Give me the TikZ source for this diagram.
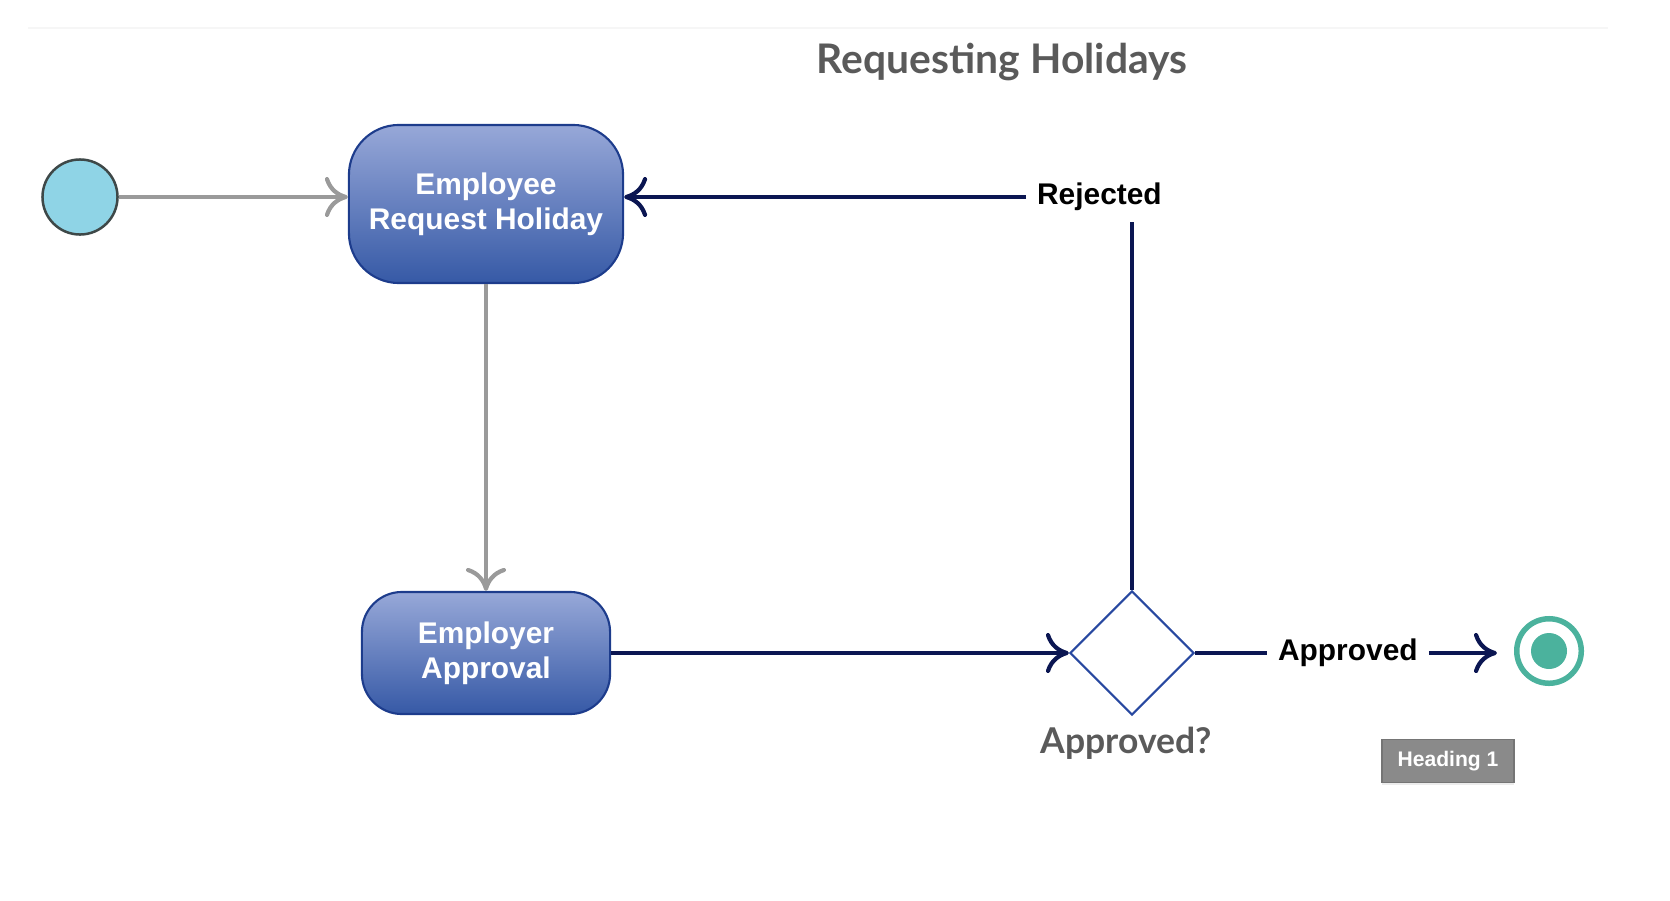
\documentclass[tikz,border=0pt]{standalone}
\usepackage{fontspec}
\setmainfont{Liberation Sans}
\newfontfamily\latofont{Lato}
\usepackage{tikz}
\usetikzlibrary{arrows.meta,shapes.geometric,shadows}
\definecolor{navy}{HTML}{0B1652}
\definecolor{boxtop}{HTML}{97A8D8}
\definecolor{boxbot}{HTML}{3659A6}
\definecolor{boxline}{HTML}{1D3C8C}
\definecolor{startfill}{HTML}{8FD4E6}
\definecolor{startline}{HTML}{3E4848}
\definecolor{endteal}{HTML}{4BB29D}
\definecolor{flowgray}{HTML}{9A9A9A}
\definecolor{titlegray}{HTML}{5A5A5A}
\definecolor{diablue}{HTML}{2848A0}
\definecolor{taggray}{HTML}{8A8A8A}

\begin{document}
\begin{tikzpicture}[x = 0.01cm, y = -0.01cm, line width = 1.2pt,
    >={Computer Modern Rightarrow[length = 0.23cm, width = 0.40cm]},
    act/.style = {rounded corners = 0.5cm, draw = boxline, line width = 0.6pt,
        top color = boxtop, bottom color = boxbot, text = white, align = center,
        font = \bfseries\fontsize{8.5}{10}\selectfont},
    lbl/.style = {font = \bfseries\fontsize{8.5}{10}\selectfont, inner xsep = 0.09cm},
    grey/.style = {draw = flowgray},
    dark/.style = {draw = navy}]
\useasboundingbox (0,0) rectangle (1670,900);
\draw[gray!7, line width = 0.02cm] (28,28) -- (1608,28);
\draw (80,197) node[circle, draw = startline, fill = startfill, line width = 0.025cm, minimum size = 0.75cm](st){}
    (486,204) node[act, minimum width = 2.74cm, minimum height = 1.58cm](req){Employee\\Request Holiday}
    (486,653) node[act, rounded corners = 0.4cm, minimum width = 2.48cm, minimum height = 1.22cm](emp){Employer\\Approval}
    (1132,653) node[diamond, draw = diablue, line width = 0.6pt, minimum size = 1.24cm, inner sep = 0](dec){}
    (1549,651) node[circle, draw = endteal, line width = 0.055cm, minimum size = 0.645cm, inner sep = 0](fin){}
    (1026,197) node[lbl, anchor = west](rej){Rejected}
    (1267,653) node[lbl, anchor = west](ok){Approved};
\fill[endteal] (fin) circle (0.18cm);
\coordinate (rtop) at (1132,222);
\node[font = \latofont\bfseries\fontsize{11.6}{14}\selectfont, text = titlegray](title) at (1002,62) {Requesting Holidays};
\node[font = \latofont\bfseries\fontsize{10.1}{12}\selectfont, text = titlegray](q) at (1126,743) {Approved?};
\node[fill = taggray, draw = taggray!85!black, line width = 0.4pt, text = white, minimum width = 1.32cm, minimum height = 0.40cm,
    font = \bfseries\fontsize{6}{7}\selectfont,
    drop shadow = {opacity = 0.15, shadow xshift = 0cm, shadow yshift = -0.02cm}](tag) at (1448,761) {Heading 1};
\draw [->, grey] (st) -- (req.west |- st);
\draw [->, grey] (req) -- (emp);
\draw [->, dark] (emp) -- (dec);
\draw [-, dark] (dec.north) -- (rtop);
\draw [->, dark] (rej.west) -- (req.east |- rej.west);
\draw [-, dark] (dec.east) -- (ok.west);
\draw [->, dark, shorten > = 0.17cm] (ok.east) -- (fin.west |- ok.east);
\end{tikzpicture}
\end{document}
